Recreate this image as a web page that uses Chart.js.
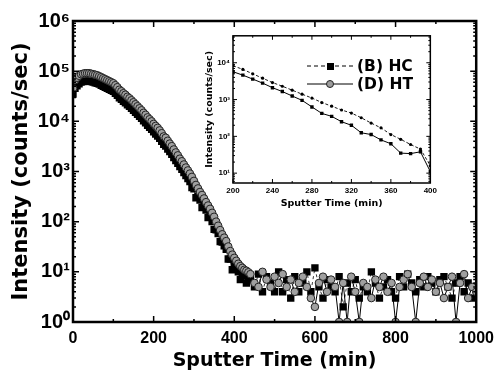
<!DOCTYPE html>
<html><head><meta charset="utf-8">
<script src="https://cdn.jsdelivr.net/npm/chart.js@4/dist/chart.umd.min.js"></script>
<style>
html,body{margin:0;padding:0;background:#fff;}
#wrap{position:relative;width:501px;height:372px;overflow:hidden;}
#main{position:absolute;left:0;top:0;width:501px;height:372px;}
#inset{position:absolute;left:190px;top:28px;width:250px;height:185px;}
</style></head><body>
<div id="wrap"><canvas id="main" width="501" height="372"></canvas><canvas id="inset" width="250" height="185"></canvas></div>
<script>
// ---------- main chart data ----------
const times = [0,5,10,15,20,25,30,35,40,45,50,55,60,65,70,75,80,85,90,95,100,105,110,115,120,125,130,135,140,145,150,155,160,165,170,175,180,185,190,195,200,205,210,215,220,225,230,235,240,245,250,255,260,265,270,275,280,285,290,295,300,305,310,315,320,325,330,335,340,345,350,355,360,365,370,375,380,385,390,395,400,405,410,415,420,425,430,435,
  440,450,460,470,480,490,500,510,520,530,540,550,560,570,580,590,600,610,620,630,640,650,660,670,680,690,700,710,720,730,740,750,760,770,780,790,800,810,820,830,840,850,860,870,880,890,900,910,920,930,940,950,960,970,980,990,1000];
const hcValues = [35000,45700,51300,56200,60300,61700,63100,63100,63100,61700,
  60300,58900,57500,55000,52500,50100,47900,45700,43600,41700,
  39800,36300,33100,29500,27500,25100,23400,21400,20000,18200,
  16600,15100,13800,12600,11500,10200,9300,8300,7600,6900,
  6200,5600,5100,4600,4000,3500,3200,2800,2500,2200,
  1900,1660,1450,1260,1100,950,830,720,630,480,
  450,300,320,270,190,200,170,120,125,100,
  70,69,58,40,39,33,28,18,18,11,
  13,14,10,7,8.3,9,6,8,
  7,5,9,4,8,6,
  4,10,4,7,3,8,4,6,10,4,
  12,5,3,7,5,4,8,2,6,4,
  7,3,5,4,10,6,3,5,7,4,
  3,8,5,9,6,4,7,5,8,6,
  4,7,8,5,3,6,8,4,6,3,
  5];
const htValues = [45000,66000,74000,81000,87000,89000,91000,91000,91000,89000,
  87000,85000,83000,79400,75900,72400,69200,66100,63100,60300,
  57500,52500,47900,42700,39800,36300,33900,30900,28800,26300,
  24000,21900,20000,18200,16600,14800,13500,12000,11000,10000,
  8900,8100,7400,6600,5800,5000,4700,4100,3600,3200,
  2750,2400,2100,1800,1600,1380,1200,1050,910,780,
  650,540,460,390,340,290,245,210,180,150,
  125,100,83,68,56,48,41,32,26,22,
  19,16.6,14.5,13,12,11,10.5,9.8,
  9,6,5,10,7,5,
  8,6,9,5,7,4,6,8,5,3,
  2,6,8,4,7,5,1,6,1,8,
  4,1,6,5,3,7,5,8,4,6,
  1,5,7,9,5,1,6,8,5,7,
  4,6,3,5,8,1,6,9,3,5,
  4];
const xMajorTicks = [0,200,400,600,800,1000];
const xMinorTicks = [100,300,500,700,900];
const yMajorTicks = [1,10,100,1000,10000,100000,1000000];

// ---------- inset data ----------
const insetTimes = [200,210,220,230,240,250,260,270,280,290,300,310,320,330,340,350,360,370,380,390,400];
const insetHC = [8300,6600,5000,3800,2900,2300,1800,1400,1100,830,660,520,430,320,230,170,112,83,60,45,16];
const insetHT = [5700,4600,3600,2800,2100,1650,1250,950,630,420,350,250,200,125,112,80,63,35,34,38,11];
const insetXMajor = [200,240,280,320,360,400];
const insetXMinor = [220,260,300,340,380];
const insetYMajor = [10,100,1000,10000];

const labels = ['(B) HC','(D) HT'];
const SUP = ['\u2070','\u00B9','\u00B2','\u00B3','\u2074','\u2075','\u2076'];
const tickFont = '"Liberation Sans", Arial, sans-serif';
const titleFont = '"DejaVu Sans", sans-serif';

function pts(xs, ys){ return xs.map((t,i)=>({x:t,y:ys[i]})); }

function framePlugin(o){
  return {
    id:'frame',
    beforeDraw(chart){
      if(!o.fill) return;
      const {ctx, chartArea:a} = chart;
      ctx.save(); ctx.fillStyle='#fff';
      ctx.fillRect(a.left,a.top,a.right-a.left,a.bottom-a.top);
      ctx.restore();
    },
    afterDraw(chart){
      const {ctx, chartArea:a, scales:{x,y}} = chart;
      ctx.save();
      ctx.strokeStyle='#000';
      ctx.lineWidth=o.tw;
      ctx.beginPath();
      const xt=(vals,len)=>vals.forEach(v=>{const p=x.getPixelForValue(v);
        ctx.moveTo(p,a.bottom); ctx.lineTo(p,a.bottom-len);
        ctx.moveTo(p,a.top); ctx.lineTo(p,a.top+len);});
      xt(o.xMajor,o.maj); xt(o.xMinor,o.min);
      const yt=(v,len)=>{const p=y.getPixelForValue(v);
        if(p<a.top-0.5||p>a.bottom+0.5) return;
        ctx.moveTo(a.left,p); ctx.lineTo(a.left+len,p);
        ctx.moveTo(a.right,p); ctx.lineTo(a.right-len,p);};
      for(let d=o.dmin; d<=o.dmax; d++){
        const base=Math.pow(10,d);
        yt(base,o.maj);
        for(let m=2;m<=9;m++) yt(m*base,o.min);
      }
      ctx.stroke();
      ctx.lineWidth=o.lw;
      ctx.strokeRect(a.left,a.top,a.right-a.left,a.bottom-a.top);
      ctx.restore();
      if(o.legend) o.legend(ctx);
    }
  };
}

new Chart(document.getElementById('main'), {
  type:'line',
  data:{datasets:[
    {label:labels[0], data:pts(times,hcValues), showLine:true, borderColor:'#000', borderWidth:0.8, borderDash:[3,3],
     pointStyle:'rect', pointRadius:5.2, pointBackgroundColor:'#000', pointBorderColor:'#000', pointBorderWidth:0, order:2},
    {label:labels[1], data:pts(times,htValues), showLine:true, borderColor:'#000', borderWidth:1,
     pointStyle:'circle', pointRadius:3.8, pointBackgroundColor:'#a0a0a0', pointBorderColor:'#222', pointBorderWidth:1, order:1}
  ]},
  options:{
    responsive:false, animation:false, devicePixelRatio:1,
    layout:{padding:{top:21,right:21,left:0,bottom:0}},
    plugins:{legend:{display:false}, tooltip:{enabled:false}},
    scales:{
      x:{type:'linear', min:0, max:1000,
        afterBuildTicks:s=>{s.ticks=xMajorTicks.map(v=>({value:v}));},
        grid:{display:false, drawTicks:false}, border:{display:false},
        ticks:{color:'#000', font:{family:tickFont, weight:'bold', size:16}, padding:7, maxRotation:0, autoSkip:false,
          callback:v=>String(v)},
        title:{display:true, text:'Sputter Time (min)', color:'#000', font:{family:titleFont, weight:'bold', size:19}, padding:{top:0,bottom:0}},
        afterFit:s=>{s.height=50;}
      },
      y:{type:'logarithmic', min:1, max:1000000,
        afterBuildTicks:s=>{s.ticks=yMajorTicks.map(v=>({value:v}));},
        grid:{display:false, drawTicks:false}, border:{display:false},
        ticks:{color:'#000', font:{family:tickFont, weight:'bold', size:20}, padding:3, autoSkip:false,
          callback:v=>'10'+SUP[Math.round(Math.log10(v))]},
        title:{display:true, text:'Intensity (counts/sec)', color:'#000', font:{family:titleFont, weight:'bold', size:21}, padding:{top:9,bottom:0}},
        afterFit:s=>{s.width=73;}
      }
    }
  },
  plugins:[framePlugin({xMajor:xMajorTicks, xMinor:xMinorTicks, dmin:0, dmax:6, maj:6, min:3, tw:1.5, lw:2.5})]
});

function insetLegend(ctx){
  ctx.save();
  ctx.strokeStyle='#000'; ctx.lineWidth=1;
  ctx.setLineDash([4,3]);
  ctx.beginPath(); ctx.moveTo(117,38); ctx.lineTo(163,38); ctx.stroke();
  ctx.setLineDash([]);
  ctx.fillStyle='#000'; ctx.fillRect(137,35,7,7);
  ctx.beginPath(); ctx.moveTo(117,56); ctx.lineTo(163,56); ctx.stroke();
  ctx.beginPath(); ctx.arc(140,56,3.5,0,Math.PI*2); ctx.fillStyle='#9c9c9c'; ctx.fill(); ctx.strokeStyle='#222'; ctx.stroke();
  ctx.fillStyle='#000'; ctx.font='bold 15.5px '+titleFont; ctx.textBaseline='middle'; ctx.textAlign='left';
  ctx.fillText(labels[0],167,39);
  ctx.fillText(labels[1],167,57);
  ctx.restore();
}

new Chart(document.getElementById('inset'), {
  type:'line',
  data:{datasets:[
    {label:labels[0], data:pts(insetTimes,insetHC), showLine:true, borderColor:'#000', borderWidth:0.9, borderDash:[3,2],
     pointStyle:'circle', pointRadius:1.6, pointBackgroundColor:'#000', pointBorderWidth:0},
    {label:labels[1], data:pts(insetTimes,insetHT), showLine:true, borderColor:'#000', borderWidth:1,
     pointStyle:'rect', pointRadius:2.4, pointBackgroundColor:'#000', pointBorderWidth:0}
  ]},
  options:{
    responsive:false, animation:false, devicePixelRatio:1,
    layout:{padding:{top:7,right:7,left:0,bottom:0}},
    plugins:{legend:{display:false}, tooltip:{enabled:false}},
    scales:{
      x:{type:'linear', min:200, max:400,
        afterBuildTicks:s=>{s.ticks=insetXMajor.map(v=>({value:v}));},
        grid:{display:false, drawTicks:false}, border:{display:false},
        ticks:{color:'#000', font:{family:tickFont, weight:'bold', size:8}, padding:3, maxRotation:0, autoSkip:false},
        title:{display:true, text:'Sputter Time (min)', color:'#000', font:{family:titleFont, weight:'bold', size:9.5}, padding:{top:0,bottom:4}},
        afterFit:s=>{s.height=30;}
      },
      y:{type:'logarithmic', min:5.4, max:54000,
        afterBuildTicks:s=>{s.ticks=insetYMajor.map(v=>({value:v}));},
        grid:{display:false, drawTicks:false}, border:{display:false},
        ticks:{color:'#000', font:{family:tickFont, weight:'bold', size:8}, padding:3, autoSkip:false,
          callback:v=>'10'+SUP[Math.round(Math.log10(v))]},
        title:{display:true, text:'Intensity (counts/sec)', color:'#000', font:{family:titleFont, weight:'bold', size:9.5}, padding:{top:14,bottom:0}},
        afterFit:s=>{s.width=43;}
      }
    }
  },
  plugins:[framePlugin({fill:true, xMajor:insetXMajor, xMinor:insetXMinor, dmin:0, dmax:4, maj:4, min:2, tw:1, lw:1.5, legend:insetLegend})]
});
</script>
</body></html>
